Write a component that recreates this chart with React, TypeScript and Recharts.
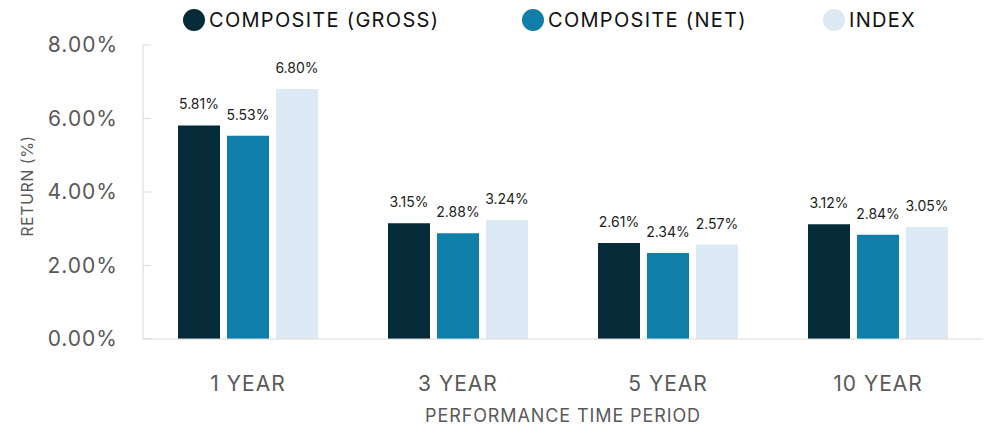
import { BarChart, Bar, XAxis, YAxis, LabelList, Label } from "recharts";

const PERIODS = ["1 YEAR", "3 YEAR", "5 YEAR", "10 YEAR"];
const GROSS = [5.81, 3.15, 2.61, 3.12];
const NET = [5.53, 2.88, 2.34, 2.84];
const INDEX = [6.8, 3.24, 2.57, 3.05];
const Y_TICKS = [0, 2, 4, 6, 8];

const SERIES = [
  { key: "gross", name: "COMPOSITE (GROSS)", color: "#052b39" },
  { key: "net", name: "COMPOSITE (NET)", color: "#0f7ea9" },
  { key: "index", name: "INDEX", color: "#dde9f5" },
];

const data = PERIODS.map((p, i) => ({
  period: p,
  gross: GROSS[i],
  net: NET[i],
  index: INDEX[i],
}));

const FONT = "Inter, 'Noto Sans', sans-serif";
const pct = (v: unknown) => `${Number(v).toFixed(2)}%`;

function YTick({ x, y, payload }: any) {
  return (
    <g>
      <line x1={x} y1={y} x2={x + 8} y2={y} stroke="#d9d9d9" />
      <text x={x - 25} y={y} dy={7} textAnchor="end" fill="#595959" fontSize={21} letterSpacing={1} fontFamily={FONT}>
        {pct(payload.value)}
      </text>
    </g>
  );
}

function LegendRow() {
  const pos = [183, 522, 823];
  return (
    <div style={{ position: "absolute", top: 9, left: 0, fontFamily: FONT, fontSize: 20, letterSpacing: 1.3, color: "#111", lineHeight: "22px" }}>
      {SERIES.map((s, i) => (
        <div key={s.key} style={{ position: "absolute", left: pos[i], top: 0, display: "flex", alignItems: "center", whiteSpace: "nowrap" }}>
          <span style={{ width: 22, height: 22, borderRadius: "50%", background: s.color, display: "inline-block", marginRight: 4 }} />
          <span>{s.name}</span>
        </div>
      ))}
    </div>
  );
}

export default function App() {
  return (
    <div style={{ position: "relative", width: 994, height: 427, background: "#fff" }}>
      <style>{"body{margin:0}"}</style>
      <LegendRow />
      <BarChart width={994} height={427} data={data} margin={{ top: 45, right: 11, bottom: 0, left: 0 }} barGap={7} barSize={42}>
        <XAxis
          dataKey="period"
          height={88}
          stroke="#d9d9d9"
          tickLine={false}
          tickSize={0}
          tickMargin={37}
          tick={{ fill: "#595959", fontSize: 21, letterSpacing: 1, fontFamily: FONT }}
        >
          <Label value="PERFORMANCE TIME PERIOD" position="insideBottom" offset={5} fill="#595959" fontSize={18} letterSpacing={0.9} fontFamily={FONT} />
        </XAxis>
        <YAxis
          width={143}
          domain={[0, 8]}
          ticks={Y_TICKS}
          stroke="#d9d9d9"
          tickLine={false}
          tickSize={0}
          tickMargin={0}
          tick={<YTick />}
        >
          <Label value="RETURN (%)" angle={-90} position="center" dx={-44} dy={-6} fill="#595959" fontSize={16} letterSpacing={0.5} fontFamily={FONT} />
        </YAxis>
        {SERIES.map((s) => (
          <Bar key={s.key} dataKey={s.key} name={s.name} fill={s.color} isAnimationActive={false}>
            <LabelList dataKey={s.key} position="top" offset={16} formatter={pct} fill="#222" fontSize={14} fontFamily={FONT} />
          </Bar>
        ))}
      </BarChart>
    </div>
  );
}
